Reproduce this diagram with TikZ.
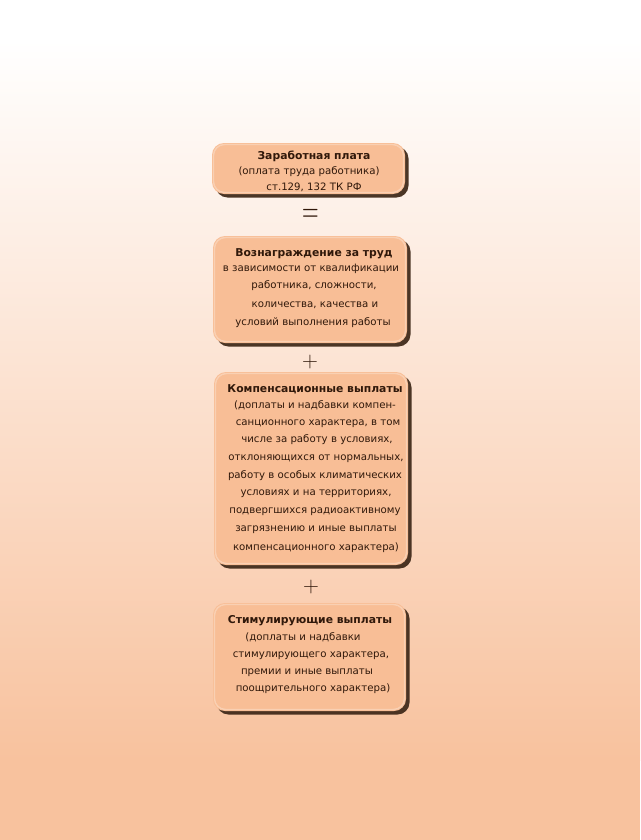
\documentclass[tikz,border=0pt]{standalone}
\usepackage{fontspec}
\setmainfont{DejaVu Sans}
\usetikzlibrary{shadows}
\definecolor{bgpeach}{RGB}{248,194,158}
\definecolor{boxfill}{RGB}{248,190,150}
\definecolor{shadowc}{RGB}{66,44,28}
\definecolor{txt}{RGB}{48,24,10}
\begin{document}
\begin{tikzpicture}[x=1pt,y=-1pt,
  boxst/.style={draw=none, fill=boxfill, rounded corners=12pt, inner sep=0pt,
    drop shadow={shadow xshift=3.5pt, shadow yshift=-3.5pt, fill=shadowc, opacity=0.95}},
  rim/.style={draw=white, draw opacity=0.28, line width=1.4pt, rounded corners=11pt},
  line/.style={anchor=base, inner sep=0pt, text=txt, font=\fontsize{10.2}{12}\selectfont},
  ttl/.style={anchor=base, inner sep=0pt, text=txt, font=\fontsize{10.8}{12}\selectfont\bfseries},
  sign/.style={inner sep=0pt, text=txt}]
\useasboundingbox (0,0) rectangle (640,840);
\fill[white] (0,0) rectangle (640,40);
\shade[top color=white, bottom color=bgpeach] (0,40) rectangle (640,760);
\fill[bgpeach] (0,760) rectangle (640,840);

% box 1
\node[boxst, minimum width=193pt, minimum height=51pt] (b1) at (308.5,168.5) {};
\draw[rim] (213.5,144.5) rectangle (403.5,192.5);
\node[ttl] (b1t) at (314,159) {Заработная плата};
\node[line] (b1a) at (309,174) {(оплата труда работника)};
\node[line] (b1b) at (314,190) {ст.129, 132 ТК РФ};

\node[sign] (eq) at (311,216) {\scalebox{1}[1.6]{\fontspec{Latin Modern Roman}\fontsize{23}{23}\selectfont =}};

% box 2
\node[boxst, minimum width=194pt, minimum height=107pt] (b2) at (310,289.5) {};
\draw[rim] (214.5,237.5) rectangle (405.5,341.5);
\node[ttl] (b2t) at (314,256) {Вознаграждение за труд};
\node[line] (b2a) at (311,271) {в зависимости от квалификации};
\node[line] (b2b) at (314,288) {работника, сложности,};
\node[line] (b2c) at (315,307) {количества, качества и};
\node[line] (b2d) at (313,325) {условий выполнения работы};

\node[sign] (p1) at (310,362) {\fontspec{Latin Modern Roman}\fontsize{22}{22}\selectfont +};

% box 3
\node[boxst, minimum width=194pt, minimum height=193pt] (b3) at (311,468.5) {};
\draw[rim] (215.5,373.5) rectangle (406.5,563.5);
\node[ttl] (b3t) at (315,392) {Компенсационные выплаты};
\node[line] (b3a) at (315,408) {(доплаты и надбавки компен-};
\node[line] (b3b) at (318,425) {санционного характера, в том};
\node[line] (b3c) at (317,442) {числе за работу в условиях,};
\node[line] (b3d) at (316,460) {отклоняющихся от нормальных,};
\node[line] (b3e) at (315,478) {работу в особых климатических};
\node[line] (b3f) at (316,495) {условиях и на территориях,};
\node[line] (b3g) at (315,513) {подвергшихся радиоактивному};
\node[line] (b3h) at (316,531) {загрязнению и иные выплаты};
\node[line] (b3i) at (316,550) {компенсационного характера)};

\node[sign] (p2) at (311,587) {\fontspec{Latin Modern Roman}\fontsize{22}{22}\selectfont +};

% box 4
\node[boxst, minimum width=193pt, minimum height=108pt] (b4) at (309.5,657) {};
\draw[rim] (214.5,604.5) rectangle (404.5,709.5);
\node[ttl] (b4t) at (310,623) {Стимулирующие выплаты};
\node[line] (b4a) at (303,640) {(доплаты и надбавки};
\node[line] (b4b) at (311,657) {стимулирующего характера,};
\node[line] (b4c) at (307,674) {премии и иные выплаты};
\node[line] (b4d) at (313,691) {поощрительного характера)};
\end{tikzpicture}
\end{document}
